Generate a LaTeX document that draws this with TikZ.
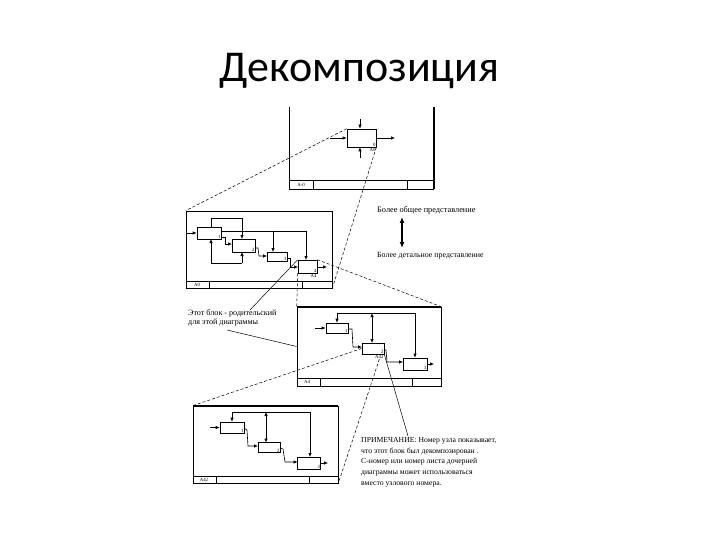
\documentclass[tikz,border=0pt]{standalone}
\usepackage{fontspec}
\setmainfont{Liberation Serif}
\newfontfamily\titlefont{Carlito}
\usetikzlibrary{arrows.meta}
\begin{document}
\begin{tikzpicture}[x=1pt,y=-1pt,
  bx/.style={draw, line width=0.6pt, inner sep=0pt},
  frm/.style={draw, line width=0.6pt, inner sep=0pt},
  arr/.style={-{Latex[length=4pt,width=3.4pt]}, line width=0.6pt},
  darr/.style={{Latex[length=4pt,width=3.4pt]}-{Latex[length=4pt,width=3.4pt]}, line width=0.6pt},
  ln/.style={line width=0.6pt},
  dsh/.style={line width=0.5pt, dash pattern=on 3pt off 2pt},
  cn/.style={font=\fontsize{4.8}{5}\selectfont, inner sep=0.6pt},
  txt/.style={font=\fontsize{8.3}{9}\selectfont, inner sep=0pt, anchor=west},
]
\useasboundingbox (0,0) rectangle (720,540);
% title
\node[font=\titlefont\fontsize{44}{50}\selectfont, anchor=base, inner sep=0pt] (title) at (359.5,82) {Декомпозиция};

% ===== A-0 diagram =====
\draw[ln] (289,107) -- (289,189) -- (434,189);
\draw[line width=1.2pt] (434,107) -- (434,189);
\draw[ln] (289,180) -- (434,180);
\draw[line width=1pt] (313,180) -- (313,189);
\draw[ln] (407,180) -- (407,189);
\node[cn] (lA0m) at (301,185) {A-0};
\node[bx, minimum width=29pt, minimum height=18pt] (b0) at (361.5,138) {};
\node[cn, anchor=south east] (n0) at (b0.south east) {0};
\node[cn, anchor=north east] (nA0) at (b0.south east) {A0};
\coordinate (b0c) at (360,119);
\coordinate (b0i) at (330,138);
\coordinate (b0o) at (395,138);
\coordinate (b0m) at (360,158);
\draw[arr] (b0c) -- (b0c |- b0.north);
\draw[arr] (b0i) -- (b0.west);
\draw[arr] (b0.east) -- (b0o);
\draw[arr] (b0m) -- (b0m |- b0.south);

% ===== A0 diagram =====
\node[frm, minimum width=146pt, minimum height=77pt] (fA0) at (259,249.5) {};
\draw[ln] (186,281) -- (332,281);
\draw[ln] (209,281) -- (209,288);
\draw[ln] (302,281) -- (302,288);
\node[cn] (lA0) at (197,285) {A0};
\node[bx, minimum width=24pt, minimum height=12pt] (a1) at (209,233) {};
\node[bx, minimum width=23pt, minimum height=13pt] (a2) at (243.5,245.5) {};
\node[bx, minimum width=20pt, minimum height=9pt] (a3) at (277,256.5) {};
\node[bx, minimum width=19pt, minimum height=13pt] (a4) at (307.5,266.5) {};
\node[cn, anchor=south east] (na1) at (a1.south east) {1};
\node[cn, anchor=south east] (na2) at (a2.south east) {2};
\node[cn, anchor=south east] (na3) at (a3.south east) {3};
\node[cn, anchor=south east] (na4) at (a4.south east) {4};
\node[cn, anchor=north east] (nA4) at (a4.south east) {A4};
\coordinate (a1in) at (186,233);
\draw[arr] (a1in) -- (a1.west);
\draw[ln] (211,227) -- (211,218) -- (242,218);
\draw[arr] (242,218) -- (242,239);
\draw[ln] (221,231) -- (306,231);
\draw[arr] (306,231) -- (306,260);
\draw[arr] (273,231) -- (273,252);
\draw[arr] (221,237) -- (225,237) -- (225,244) -- (232,244);
\draw[arr] (255,248) -- (258,248) -- (259,256) -- (267,256);
\draw[arr] (287,258) -- (290,258) -- (290,267) -- (298,267);
\draw[arr] (317,267) -- (327,267);
\draw[ln] (211,263) -- (242,263);
\draw[arr] (211,263) -- (211,239);
\draw[arr] (242,263) -- (242,252);

% ===== A4 diagram =====
\node[frm, minimum width=144pt, minimum height=79pt] (fA4) at (369,346.5) {};
\draw[line width=1.2pt] (297,307) -- (441,307);
\draw[ln] (297,378) -- (441,378);
\draw[ln] (320,378) -- (320,386);
\draw[ln] (412,378) -- (412,386);
\node[cn] (lA4) at (307,382) {A4};
\node[bx, minimum width=22pt, minimum height=10pt] (c1) at (337,328) {};
\node[bx, minimum width=22pt, minimum height=11pt] (c2) at (373,348.5) {};
\node[bx, minimum width=24pt, minimum height=12pt] (c3) at (415,364) {};
\node[cn, anchor=south east] (nc1) at (c1.south east) {1};
\node[cn, anchor=south east] (nc2) at (c2.south east) {2};
\node[cn, anchor=south east] (nc3) at (c3.south east) {3};
\node[cn, anchor=north east] (nA42) at (c2.south east) {A42};
\coordinate (c1in) at (315,328);
\draw[arr] (c1in) -- (c1.west);
\draw[ln] (337,313) -- (415,313);
\draw[arr] (337,313) -- (c1.north);
\draw[arr] (415,313) -- (c3.north);
\draw[darr] (372,313) -- (372,343);
\draw[arr] (348,329) -- (352,329) -- (353,347) -- (362,347);
\draw[arr] (384,350) -- (386,350) -- (387,362) -- (403,362);
\draw[arr] (c3.east) -- (434,364);

% ===== A42 diagram =====
\node[frm, minimum width=145pt, minimum height=77pt] (fA42) at (265.5,444.5) {};
\draw[line width=1.2pt] (193,406) -- (338,406);
\draw[ln] (193,476) -- (338,476);
\draw[ln] (216,476) -- (216,483);
\draw[ln] (309,476) -- (309,483);
\node[cn] (lA42) at (204,480) {A42};
\node[bx, minimum width=24pt, minimum height=11pt] (d1) at (232,427.5) {};
\node[bx, minimum width=22pt, minimum height=10pt] (d2) at (269,447.5) {};
\node[bx, minimum width=23pt, minimum height=12pt] (d3) at (309,463) {};
\node[cn, anchor=south east] (nd1) at (d1.south east) {1};
\node[cn, anchor=south east] (nd2) at (d2.south east) {2};
\node[cn, anchor=south east] (nd3) at (d3.south east) {3};
\coordinate (d1in) at (210,427.5);
\draw[arr] (d1in) -- (d1.west);
\draw[ln] (232,412) -- (310,412);
\draw[arr] (232,412) -- (d1.north);
\draw[arr] (310,412) -- (310,457);
\draw[darr] (266,412) -- (266,442.5);
\draw[arr] (244,428) -- (247,430) -- (248,446) -- (258,446);
\draw[arr] (280,448) -- (283,449) -- (285,462) -- (297.5,462);
\draw[arr] (d3.east) -- (328,463);

% ===== decomposition dashed lines =====
\draw[dsh] (b0.north west) -- (fA0.north west);
\draw[dsh] (b0.south east) -- (fA0.south east);
\draw[dsh] (a4.north east) -- (fA4.north east);
\draw[dsh] (a4.south west) -- (fA4.north west);
\draw[dsh] (c2.west) -- (fA42.north west);
\draw[dsh] (nA42.south) -- (fA42.south east);

% ===== texts =====
\node[txt] (tgen) at (377,210) {Более общее представление};
\node[txt, font=\fontsize{7.9}{9}\selectfont] (tdet) at (377,256) {Более детальное представление};
\coordinate (arT) at (402,217);
\coordinate (arB) at (402,248);
\draw[{Latex[length=6pt,width=5pt]}-{Latex[length=6pt,width=5pt]}, line width=1.3pt] (arT) -- (arB);

\node[txt, align=left, anchor=north west, font=\fontsize{8.1}{8.8}\selectfont] (tpar) at (188,310) {Этот блок - родительский\\для этой диаграммы};
\draw[ln, line width=0.5pt] (250,310) -- (a4.north west);
\draw[ln, line width=0.5pt] (227,330) -- (fA4.west);

\node[txt, align=left, anchor=north west, font=\fontsize{7.7}{10.8}\selectfont] (tnote) at (361,437) {ПРИМЕЧАНИЕ: Номер узла показывает,\\что этот блок был декомпозирован .\\С-номер или номер листа дочерней\\диаграммы может использоваться\\вместо узлового номера.};
\draw[ln, line width=0.5pt] (c2.south east) -- (408,436);
\end{tikzpicture}
\end{document}
